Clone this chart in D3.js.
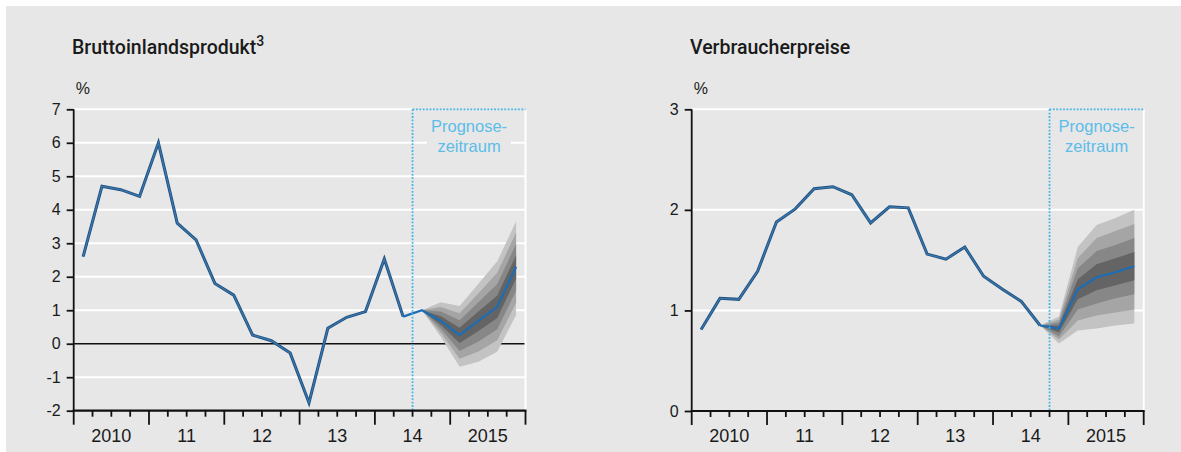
<!DOCTYPE html>
<html>
<head>
<meta charset="utf-8">
<script src="https://cdn.jsdelivr.net/npm/d3@7"></script>
<style>
  html, body { margin: 0; padding: 0; background: #ffffff; }
  svg { display: block; }
  text { font-family: "Liberation Sans", Arial, sans-serif; fill: #1a1a1a; }
</style>
</head>
<body>
<svg id="chart" width="1181" height="452"></svg>
<script>
// ---------------- data ----------------
const quarters = [
  "2010Q1","2010Q2","2010Q3","2010Q4","2011Q1","2011Q2","2011Q3","2011Q4",
  "2012Q1","2012Q2","2012Q3","2012Q4","2013Q1","2013Q2","2013Q3","2013Q4",
  "2014Q1","2014Q2","2014Q3","2014Q4","2015Q1","2015Q2","2015Q3","2015Q4"
];
const yearLabels = ["2010", "11", "12", "13", "14", "2015"];

// GDP (Bruttoinlandsprodukt), % yoy
const gdpTicks = [-2, -1, 0, 1, 2, 3, 4, 5, 6, 7];
const gdpActual = [2.6, 4.7, 4.6, 4.4, 6.0, 3.6, 3.1, 1.8, 1.45, 0.26, 0.09, -0.28,
                   -1.76, 0.46, 0.79, 0.96, 2.53, 0.81];               // 2010Q1..2014Q2
const gdpForecastQ = ["2014Q2","2014Q3","2014Q4","2015Q1","2015Q2","2015Q3","2015Q4"];
const gdpForecast = [0.81, 1.0, 0.68, 0.26, 0.68, 1.1, 2.3];
const gdpFanQ = ["2014Q3","2014Q4","2015Q1","2015Q2","2015Q3","2015Q4"];
const gdpUp4 = [1.0, 1.24, 1.13, 1.79, 2.46, 3.66];
const gdpUp3 = [1.0, 1.10, 0.91, 1.51, 2.12, 3.32];
const gdpUp2 = [1.0, 0.96, 0.70, 1.24, 1.78, 2.98];
const gdpUp1 = [1.0, 0.82, 0.48, 0.96, 1.44, 2.64];
const gdpLo1 = [1.0, 0.56, 0.02, 0.38, 0.77, 1.94];
const gdpLo2 = [1.0, 0.45, -0.22, 0.07, 0.43, 1.58];
const gdpLo3 = [1.0, 0.33, -0.45, -0.23, 0.10, 1.22];
const gdpLo4 = [1.0, 0.21, -0.69, -0.54, -0.24, 0.86];

// CPI (Verbraucherpreise), % yoy
const cpiTicks = [0, 1, 2, 3];
const cpiActual = [0.81, 1.12, 1.11, 1.39, 1.88, 2.01, 2.21, 2.23, 2.15, 1.87, 2.03, 2.02,
                   1.56, 1.51, 1.63, 1.34, 1.21, 1.09, 0.85];          // 2010Q1..2014Q3
const cpiForecastQ = ["2014Q3","2014Q4","2015Q1","2015Q2","2015Q3","2015Q4"];
const cpiForecast = [0.85, 0.82, 1.21, 1.33, 1.38, 1.44];
const cpiFanQ = ["2014Q3","2014Q4","2015Q1","2015Q2","2015Q3","2015Q4"];
const cpiUp4 = [0.85, 0.94, 1.63, 1.85, 1.92, 2.00];
const cpiUp3 = [0.85, 0.91, 1.52, 1.72, 1.79, 1.86];
const cpiUp2 = [0.85, 0.88, 1.42, 1.59, 1.65, 1.72];
const cpiUp1 = [0.85, 0.85, 1.31, 1.46, 1.52, 1.58];
const cpiLo1 = [0.85, 0.78, 1.11, 1.20, 1.25, 1.30];
const cpiLo2 = [0.85, 0.74, 1.01, 1.07, 1.12, 1.16];
const cpiLo3 = [0.85, 0.71, 0.90, 0.95, 0.98, 1.01];
const cpiLo4 = [0.85, 0.67, 0.80, 0.82, 0.85, 0.87];

// ---------------- drawing ----------------
const svg = d3.select("#chart");
const panelColor = "#e7e7e7";
svg.append("rect").attr("x", 6).attr("y", 6).attr("width", 1175).attr("height", 446).attr("fill", panelColor);

const fanColors = ["#c3c3c3", "#a5a5a5", "#878787", "#646464"];
const blueText = "#5cbde9";
const blueDot = "#45b5e6";

function qPos(q) { // quarter label -> fractional year at quarter centre
  const y = +q.slice(0, 4), n = +q.slice(5);
  return y + (n - 0.5) / 4;
}

function panel(cfg) {
  const g = svg.append("g");
  const x = d3.scaleLinear().domain([2010, 2016]).range([cfg.x0, cfg.x1]);
  const y = d3.scaleLinear().domain(cfg.yDomain).range([cfg.yBottom, cfg.yTop]);
  const fcX = x(qPos(cfg.forecastStart) - 0.125);

  // title
  const t = g.append("text").attr("x", cfg.titleX).attr("y", 54)
    .style("font-family", "Roboto, 'Liberation Sans', sans-serif")
    .style("font-weight", 500).style("font-size", "19.5px").text(cfg.title);
  if (cfg.sup) t.append("tspan").attr("dy", -8).style("font-size", "14px").text(cfg.sup);
  g.append("text").attr("x", cfg.x0 + 2).attr("y", 94).style("font-size", "16px").text("%");

  // gridlines
  g.append("g").selectAll("line").data(cfg.ticks.filter(v => v !== cfg.yDomain[0]))
    .join("line")
    .attr("x1", cfg.x0).attr("x2", cfg.x1)
    .attr("y1", d => y(d)).attr("y2", d => y(d))
    .attr("stroke", d => d === 0 ? "#111" : "#ffffff")
    .attr("stroke-width", d => d === 0 ? 1.5 : 2);
  // right white border
  g.append("line").attr("x1", cfg.x1).attr("x2", cfg.x1)
    .attr("y1", y(cfg.yDomain[1])).attr("y2", y(cfg.yDomain[0]))
    .attr("stroke", "#ffffff").attr("stroke-width", 2);

  // forecast region top dotted over white grid
  g.append("line").attr("x1", fcX).attr("x2", cfg.x1)
    .attr("y1", y(cfg.yDomain[1])).attr("y2", y(cfg.yDomain[1]))
    .attr("stroke", panelColor).attr("stroke-width", 2.5);

  // fan bands
  const fan = cfg.fan;
  const bands = [[fan.up[3], fan.lo[3]], [fan.up[2], fan.lo[2]], [fan.up[1], fan.lo[1]], [fan.up[0], fan.lo[0]]];
  bands.forEach((b, i) => {
    const pts = fan.q.map((q, k) => ({ x: qPos(q), hi: b[0][k], lo: b[1][k] }));
    g.append("path").datum(pts)
      .attr("d", d3.area().x(d => x(d.x)).y0(d => y(d.lo)).y1(d => y(d.hi)))
      .attr("fill", fanColors[i]);
  });

  // lines
  const line = d3.line().x(d => x(d.x)).y(d => y(d.v));
  const hist = cfg.actual.map((v, i) => ({ x: qPos(quarters[i]), v }));
  g.append("path").datum(hist).attr("d", line)
    .attr("fill", "none").attr("stroke", "#1f4f7d").attr("stroke-width", 3).attr("stroke-linejoin", "miter");
  g.append("path").datum(hist).attr("d", line)
    .attr("fill", "none").attr("stroke", "#3a78ae").attr("stroke-width", 1.3).attr("stroke-linejoin", "miter");
  const fc = cfg.fcQ.map((q, i) => ({ x: qPos(q), v: cfg.fcV[i] }));
  g.append("path").datum(fc).attr("d", line)
    .attr("fill", "none").attr("stroke", "#1c6db5").attr("stroke-width", 2.2);

  // forecast markers
  g.append("line").attr("x1", fcX).attr("x2", cfg.x1)
    .attr("y1", y(cfg.yDomain[1])).attr("y2", y(cfg.yDomain[1]))
    .attr("stroke", blueDot).attr("stroke-width", 1.8).attr("stroke-dasharray", "1.8,1.6");
  g.append("line").attr("x1", fcX).attr("x2", fcX)
    .attr("y1", y(cfg.yDomain[1])).attr("y2", y(cfg.yDomain[0]))
    .attr("stroke", blueDot).attr("stroke-width", 1.8).attr("stroke-dasharray", "1.8,1.6");
  const lbl = g.append("g");
  const lblX = (fcX + cfg.x1) / 2;
  lbl.append("rect").attr("x", lblX - 42).attr("y", 116).attr("width", 84).attr("height", 42).attr("fill", panelColor);
  lbl.append("text").attr("x", lblX).attr("y", 131.5).attr("text-anchor", "middle")
    .style("font-size", "16.5px").style("fill", blueText).text("Prognose-");
  lbl.append("text").attr("x", lblX).attr("y", 151.5).attr("text-anchor", "middle")
    .style("font-size", "16.5px").style("fill", blueText).text("zeitraum");

  // y axis
  const yAxis = d3.axisLeft(y).tickValues(cfg.ticks).tickSize(7).tickPadding(6)
    .tickFormat(d => String(d).replace("\u2212", "-"));
  const ya = g.append("g").attr("transform", `translate(${cfg.x0},0)`).call(yAxis);
  ya.select(".domain").attr("stroke", "#111").attr("stroke-width", 1.8).attr("d", `M0,${cfg.yTop}V${cfg.yBottom}`);
  ya.selectAll(".tick line").attr("stroke", "#111").attr("stroke-width", 1.8);
  ya.selectAll(".tick text").style("font-family", "'Liberation Sans', Arial, sans-serif")
    .style("font-size", "16px").attr("fill", "#1a1a1a");

  // x axis
  const xa = g.append("g").attr("transform", `translate(0,${cfg.yBottom})`);
  xa.append("line").attr("x1", cfg.x0 - 1).attr("x2", cfg.x1 + 1).attr("y1", 0).attr("y2", 0)
    .attr("stroke", "#111").attr("stroke-width", 2.2);
  const qBounds = d3.range(0, 25).map(i => 2010 + i / 4);
  xa.selectAll("line.tk").data(qBounds).join("line").attr("class", "tk")
    .attr("x1", d => x(d)).attr("x2", d => x(d))
    .attr("y1", 0).attr("y2", (d, i) => i % 4 === 0 ? 14 : 6)
    .attr("stroke", "#111").attr("stroke-width", 1.8);
  xa.selectAll("text").data(yearLabels).join("text")
    .attr("x", (d, i) => x(2010.5 + i)).attr("y", 31).attr("text-anchor", "middle")
    .style("font-size", "18px").text(d => d);
}

panel({
  title: "Bruttoinlandsprodukt", sup: "3", titleX: 72,
  x0: 73.7, x1: 525.5, yTop: 109.3, yBottom: 410.7, yDomain: [-2, 7], ticks: gdpTicks,
  actual: gdpActual, fcQ: gdpForecastQ, fcV: gdpForecast, forecastStart: "2014Q3",
  fan: { q: gdpFanQ, up: [gdpUp1, gdpUp2, gdpUp3, gdpUp4], lo: [gdpLo1, gdpLo2, gdpLo3, gdpLo4] }
});
panel({
  title: "Verbraucherpreise", sup: null, titleX: 690,
  x0: 691.7, x1: 1143.7, yTop: 109.3, yBottom: 411, yDomain: [0, 3], ticks: cpiTicks,
  actual: cpiActual, fcQ: cpiForecastQ, fcV: cpiForecast, forecastStart: "2014Q4",
  fan: { q: cpiFanQ, up: [cpiUp1, cpiUp2, cpiUp3, cpiUp4], lo: [cpiLo1, cpiLo2, cpiLo3, cpiLo4] }
});
</script>
</body>
</html>
